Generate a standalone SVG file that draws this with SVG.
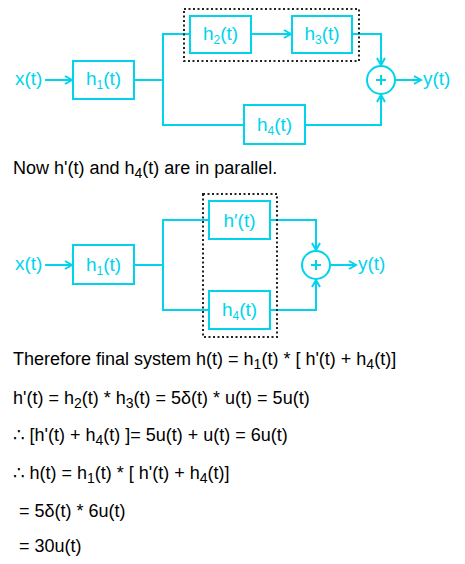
<svg xmlns="http://www.w3.org/2000/svg" width="465" height="564" viewBox="0 0 465 564">
<defs>
<style>
.ln{fill:none;stroke:#00d4ec;stroke-width:2}
.bx{fill:#fff;stroke:#00d4ec;stroke-width:2}
.dot{fill:none;stroke:#222;stroke-width:2;stroke-dasharray:2 2.5}
.lb{font-family:"Liberation Sans",Arial,sans-serif;font-size:19px;fill:#00d4ec}
.lbs{font-size:12px}
.tx{font-family:"Liberation Sans",Arial,"DejaVu Sans",sans-serif;font-size:18px;fill:#000}
.s{font-size:14px}
</style>
<marker id="ah" markerUnits="userSpaceOnUse" markerWidth="10" markerHeight="10" refX="7" refY="4" orient="auto" viewBox="-1 -1 10 10">
<path d="M0,0 L7,4 L0,8" fill="none" stroke="#00d4ec" stroke-width="2"/>
</marker>
</defs>
<rect width="465" height="564" fill="#fff"/>

<g id="connectors">
<line class="ln" x1="45" y1="80" x2="72" y2="80" marker-end="url(#ah)"/>
<polyline class="ln" points="134,80 163,80"/>
<polyline class="ln" points="190,34 163,34 163,125 244,125"/>
<line class="ln" x1="251" y1="34" x2="291" y2="34" marker-end="url(#ah)"/>
<polyline class="ln" points="352,34 381,34 381,65" marker-end="url(#ah)"/>
<polyline class="ln" points="305,125 381,125 381,95" marker-end="url(#ah)"/>
<line class="ln" x1="395" y1="80" x2="421" y2="80" marker-end="url(#ah)"/>

<line class="ln" x1="45" y1="265" x2="72" y2="265" marker-end="url(#ah)"/>
<polyline class="ln" points="134,265 163,265"/>
<polyline class="ln" points="209,220 163,220 163,310 209,310"/>
<polyline class="ln" points="270,220 316,220 316,250" marker-end="url(#ah)"/>
<polyline class="ln" points="270,310 316,310 316,280" marker-end="url(#ah)"/>
<line class="ln" x1="330" y1="265" x2="356" y2="265" marker-end="url(#ah)"/>
</g>

<g id="group1"><rect class="dot" x="184" y="9" width="175" height="52"/></g>
<g id="group2"><rect class="dot" x="203" y="194" width="74" height="143"/></g>

<g id="x1"><text class="lb" x="15" y="85">x(t)</text></g>
<g id="h1a"><rect class="bx" x="73" y="61" width="61" height="38"/>
<text class="lb" x="103.5" y="85" text-anchor="middle">h<tspan class="lbs" dy="4">1</tspan><tspan dy="-4">(t)</tspan></text></g>
<g id="h2"><rect class="bx" x="190" y="16" width="61" height="37"/>
<text class="lb" x="220.5" y="40" text-anchor="middle">h<tspan class="lbs" dy="4">2</tspan><tspan dy="-4">(t)</tspan></text></g>
<g id="h3"><rect class="bx" x="292" y="16" width="60" height="37"/>
<text class="lb" x="322" y="40" text-anchor="middle">h<tspan class="lbs" dy="4">3</tspan><tspan dy="-4">(t)</tspan></text></g>
<g id="h4a"><rect class="bx" x="244" y="105" width="61" height="39"/>
<text class="lb" x="274.5" y="130.5" text-anchor="middle">h<tspan class="lbs" dy="4">4</tspan><tspan dy="-4">(t)</tspan></text></g>
<g id="sum1"><circle class="bx" cx="381" cy="80" r="14"/>
<path class="ln" d="M376,80 H386 M381,75 V85" stroke-width="1.5"/></g>
<g id="y1"><text class="lb" x="423" y="85">y(t)</text></g>

<g id="x2"><text class="lb" x="15" y="270">x(t)</text></g>
<g id="h1b"><rect class="bx" x="73" y="245" width="61" height="39"/>
<text class="lb" x="103.5" y="270.5" text-anchor="middle">h<tspan class="lbs" dy="4">1</tspan><tspan dy="-4">(t)</tspan></text></g>
<g id="hp"><rect class="bx" x="209" y="201" width="61" height="38"/>
<text class="lb" x="239.5" y="226.5" text-anchor="middle">h′(t)</text></g>
<g id="h4b"><rect class="bx" x="209" y="291" width="61" height="38"/>
<text class="lb" x="239.5" y="315.5" text-anchor="middle">h<tspan class="lbs" dy="4">4</tspan><tspan dy="-4">(t)</tspan></text></g>
<g id="sum2"><circle class="bx" cx="316" cy="265" r="14"/>
<path class="ln" d="M311,265 H321 M316,260 V270" stroke-width="1.5"/></g>
<g id="y2"><text class="lb" x="358" y="270">y(t)</text></g>

<g id="text">
<text class="tx" x="13" y="174">Now h'(t) and h<tspan class="s" dy="4">4</tspan><tspan dy="-4">(t) are in parallel.</tspan></text>
<text class="tx" x="13" y="365">Therefore final system h(t) = h<tspan class="s" dy="4">1</tspan><tspan dy="-4">(t) * [ h'(t) + h</tspan><tspan class="s" dy="4">4</tspan><tspan dy="-4">(t)]</tspan></text>
<text class="tx" x="13" y="404">h'(t) = h<tspan class="s" dy="4">2</tspan><tspan dy="-4">(t) * h</tspan><tspan class="s" dy="4">3</tspan><tspan dy="-4">(t) = 5δ(t) * u(t) = 5u(t)</tspan></text>
<text class="tx" x="13" y="441">∴ [h'(t) + h<tspan class="s" dy="4">4</tspan><tspan dy="-4">(t) ]= 5u(t) + u(t) = 6u(t)</tspan></text>
<text class="tx" x="13" y="479">∴ h(t) = h<tspan class="s" dy="4">1</tspan><tspan dy="-4">(t) * [ h'(t) + h</tspan><tspan class="s" dy="4">4</tspan><tspan dy="-4">(t)]</tspan></text>
<text class="tx" x="19" y="517">= 5δ(t) * 6u(t)</text>
<text class="tx" x="19" y="552">= 30u(t)</text>
</g>
</svg>
